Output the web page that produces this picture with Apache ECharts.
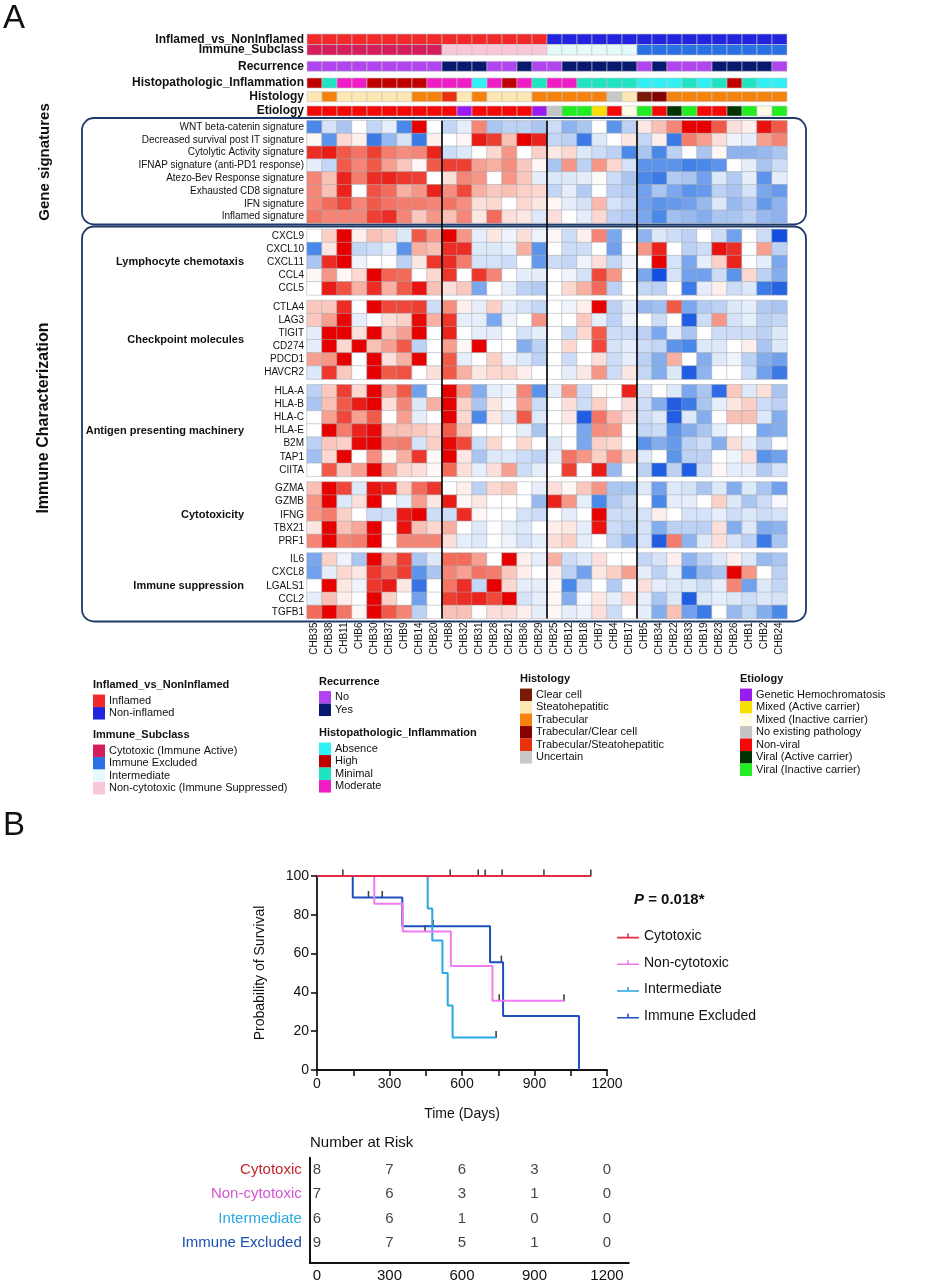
<!DOCTYPE html>
<html>
<head>
<meta charset="utf-8">
<script src="https://cdn.jsdelivr.net/npm/echarts@6.0.0/dist/echarts.min.js"></script>
<style>
  html, body { margin: 0; padding: 0; background: #fff; }
  #chart { width: 940px; height: 1280px; }
</style>
</head>
<body>
<div id="chart"></div>
<script>
// ---------- Panel A: samples and annotations ----------
const samples = ['CHB35', 'CHB38', 'CHB11', 'CHB6', 'CHB30', 'CHB37', 'CHB9', 'CHB14', 'CHB20',
  'CHB8', 'CHB32', 'CHB31', 'CHB28', 'CHB21', 'CHB36', 'CHB29',
  'CHB25', 'CHB12', 'CHB18', 'CHB7', 'CHB4', 'CHB17',
  'CHB5', 'CHB34', 'CHB22', 'CHB33', 'CHB19', 'CHB23', 'CHB26', 'CHB1', 'CHB2', 'CHB24'];
const groupBreaks = [9, 16, 22]; // black separators after these columns

const inflamedCats = ['Inflamed', 'Non-inflamed'];
const inflamedColors = ['#f2282a', '#2424de'];
const inflamedStatus = [0, 0, 0, 0, 0, 0, 0, 0, 0, 0, 0, 0, 0, 0, 0, 0,
  1, 1, 1, 1, 1, 1, 1, 1, 1, 1, 1, 1, 1, 1, 1, 1];

const subclassCats = ['Cytotoxic (Immune Active)', 'Immune Excluded', 'Intermediate', 'Non-cytotoxic (Immune Suppressed)'];
const subclassColors = ['#d41f5a', '#2a6fe4', '#e6fafb', '#f9c6da'];
const immuneSubclass = [0, 0, 0, 0, 0, 0, 0, 0, 0, 3, 3, 3, 3, 3, 3, 3,
  2, 2, 2, 2, 2, 2, 1, 1, 1, 1, 1, 1, 1, 1, 1, 1];

const recurrenceCats = ['No', 'Yes'];
const recurrenceColors = ['#b044ee', '#08196f'];
const recurrence = [0, 0, 0, 0, 0, 0, 0, 0, 0, 1, 1, 1, 0, 0, 1, 0,
  0, 1, 1, 1, 1, 1, 0, 1, 0, 0, 0, 1, 1, 1, 1, 0];

const histopathCats = ['Absence', 'High', 'Minimal', 'Moderate'];
const histopathColors = ['#2ff0f4', '#c00000', '#1ee4c2', '#f01cc4'];
const histopathInflammation = [1, 2, 3, 3, 1, 1, 1, 1, 3, 3, 3, 0, 3, 1, 3, 2,
  3, 3, 2, 2, 2, 2, 0, 0, 0, 2, 0, 2, 1, 2, 0, 0];

const histologyCats = ['Clear cell', 'Steatohepatitic', 'Trabecular', 'Trabecular/Clear cell', 'Trabecular/Steatohepatitic', 'Uncertain'];
const histologyColors = ['#7a1a06', '#fde7b2', '#f5820e', '#850000', '#e8320e', '#c8c8c8'];
const histology = [1, 2, 1, 1, 1, 1, 1, 2, 2, 4, 1, 2, 1, 1, 1, 2,
  2, 2, 2, 2, 5, 1, 0, 3, 2, 2, 2, 2, 2, 2, 2, 2];

const etiologyCats = ['Genetic Hemochromatosis', 'Mixed (Active carrier)', 'Mixed (Inactive carrier)', 'No existing pathology',
  'Non-viral', 'Viral (Active carrier)', 'Viral (Inactive carrier)'];
const etiologyColors = ['#9a1cf0', '#f8de00', '#fffbe4', '#c4c4c4', '#f40808', '#023302', '#22ec22'];
const etiology = [4, 4, 4, 4, 4, 4, 4, 4, 4, 4, 0, 4, 4, 4, 4, 0,
  3, 6, 6, 1, 4, 2, 6, 4, 5, 6, 4, 4, 5, 6, 2, 6];

// ---------- Panel A: z-scored expression ----------
const signatureNames = ['WNT beta-catenin signature', 'Decreased survival post IT signature', 'Cytolytic Activity signature',
  'IFNAP signature (anti-PD1 response)', 'Atezo-Bev Response signature', 'Exhausted CD8 signature', 'IFN signature', 'Inflamed signature'];
const signatureValues = [
  [-2, -0.5, -1, 0, -0.7, -0.3, -2, 3, 0, -0.7, -0.3, 1.5, -1, -0.8, -0.8, -1, -0.6, -1.3, -1, 0, -1.8, -0.8, 0.3, 0.8, 1.5, 3, 3, 2, 0.4, 0.2, 2.8, 2],
  [0.1, -1.8, 0.5, 0.2, -2.2, -1.2, -0.5, -2.2, 0.2, 0, 0.1, 2.7, 2.3, 0.8, 3, 2.6, -0.7, -0.8, -2.2, -0.4, 0, 0.3, -0.7, 0.2, -2.2, 1.6, 1.2, 0.4, -0.2, -0.3, 1.2, 1.5],
  [2.5, 2.7, 2, 1.7, 2.3, 1.6, 1.4, 1.5, 2.6, -0.6, -0.4, 0, 0.5, 1.3, 0, 0.6, 0.3, 0.5, -0.4, -0.6, -0.8, -2, -1, -2, -0.8, 0, -1, 0.1, -1.3, -1.3, -1.2, -1],
  [-0.3, -0.7, 2, 1.5, 2, 1.2, 0.7, 0.1, 2, 2.3, 2.3, 1.2, 1, 1.4, 0.7, 0.1, -1, 1.3, -0.8, 1.3, 0.5, -0.5, -1.8, -1.8, -1.8, -2.1, -2, -1.8, 0, -0.3, -1, -0.6],
  [1.5, 0.8, 2.6, 1.6, 2.5, 2.6, 2.4, 2.3, 0, 0.4, 1.5, 1.3, 0, 1.3, 0.7, -0.3, -0.4, -0.4, -0.3, 0.05, -0.6, -1, -2, -2.2, -0.9, -1, -1.6, -0.4, -0.9, -0.3, -1.8, -0.3],
  [1.5, 0.8, 2.6, 0, 2.1, 1.8, 1, 1.3, 2.6, 1.4, 2.2, 1, 0.7, 0.8, 0.6, 0.5, -0.7, -0.3, -0.9, 0, -0.8, -0.9, -1.6, -1, -1.5, -1.8, -1.7, -0.8, -1, -0.5, -1.5, -1.7],
  [1.5, 1.8, 2.2, 1.5, 2, 1.7, 1.6, 1.6, 1.5, 1.7, 1.4, 0.4, 0.5, 0, 0.5, 0.3, 0.1, -0.3, -0.5, 0.9, -0.5, -0.7, -1.6, -1.8, -1.7, -1.6, -1.2, -0.4, -1.2, -0.9, -1.7, -1.3],
  [1.7, 1.5, 1.5, 1.5, 2.3, 2.5, 1.5, 0.7, 1.3, 0.8, 1.5, 0.3, 1.8, 0.4, 0.3, -0.4, 0.4, 0, -0.3, 0.5, -0.8, -0.9, -1.5, -2, -1.1, -1.2, -1.4, -1, -1, -0.8, -1.2, -1.3]
];

const chemotaxisGenes = ['CXCL9', 'CXCL10', 'CXCL11', 'CCL4', 'CCL5'];
const chemotaxisValues = [
  [0, 0.6, 3, 0.2, 0.8, 0.6, -0.4, 2, 1.3, 3, 1.3, -0.3, 0.3, -0.2, 0.4, -0.2, 0.1, -0.6, 0.2, 1.5, -1.5, 0, -1.3, -0.4, -0.6, -0.8, 0, -0.6, -1.6, 0, -0.6, -2.8],
  [-2, 0.3, 3, -0.7, -0.6, -0.3, -1.8, 1, 0.8, 2.5, 2.5, -0.4, -0.4, -0.3, 1, -1.8, 0, -0.6, -0.6, 0, -1.6, 0, 1.3, 2.6, 0, -0.8, -0.6, 2.8, 2.5, 0, 1.2, -0.8],
  [-1, 2.5, 3, -0.2, 0, 0, -0.8, 0.3, 2.4, 2.5, 1.6, -0.5, -0.5, -0.6, 0, -1.7, -0.6, -0.7, -0.2, 0.4, -0.7, -0.2, 0, 3, -0.5, -1.5, -0.3, 0.6, 2.6, 0, -0.3, -1.5],
  [0.1, 1.3, 0.1, 0.5, 3, 1.9, 1.8, 0, 0.5, 2.4, 0, 2.4, 1.5, 0, -0.3, -0.3, 0, -0.2, -0.5, 2.2, 1.3, 0, -1.5, -2.8, -0.5, -1.6, -1.6, -0.6, -1.8, 0.5, -0.8, -1.4],
  [0, 2.7, 2.1, 1, 2.5, 1, 2, 2.8, 0.8, 0.4, 0.7, -1.5, 0, -0.3, -0.8, -0.9, 0, 0.5, 1, 1.8, -0.8, 0, -0.7, -0.8, 0, -2.2, -0.3, 0.2, -0.6, -0.4, -2.2, -2.5]
];

const checkpointGenes = ['CTLA4', 'LAG3', 'TIGIT', 'CD274', 'PDCD1', 'HAVCR2'];
const checkpointValues = [
  [0.7, 0.7, 2.5, 0, 3, 2.2, 2.2, 2.3, -0.6, 1.4, 0.2, -0.3, 0.6, -0.3, -0.5, -0.7, 0, -0.2, 0.2, 3, -0.8, -0.3, -1.2, -1.1, 2, -1.5, -0.9, -0.8, -0.4, -0.3, -0.9, -1],
  [0.7, 1.2, 2.9, -0.3, 0, 0.4, 0.6, 2.9, 1, 2.4, -0.3, -0.3, -1.5, -0.2, 0, 1.3, 0, 0, 0.7, -0.3, -0.8, -0.2, 0, -0.6, 0, -2.6, -0.6, 1.3, -0.5, -0.3, -0.8, -0.7],
  [-0.3, 3, 3, 0.4, 3, 0.8, 1.2, 3, 0, 2.6, 0, -0.3, -0.3, 0, -0.5, -0.3, 0, -0.6, 0.5, 2, -0.6, -0.6, -0.8, -1.5, -0.3, -1, 0, -0.6, -0.6, -0.6, -0.8, -0.4],
  [-0.3, 3, 0.5, 3, 0.8, 1.2, 2, -0.8, 0, 1.2, 0.1, 3, 0, 0, -1.4, -0.8, 0, 0.5, 0, 2.2, -0.5, -0.3, -0.6, -0.7, -1.8, -2, -0.4, -0.4, 0, 0.2, -1, -0.4],
  [1.2, 1.3, 3, 0, 3, 0.4, 1, 3, 0, 2, -0.3, 0, 0.6, -0.2, -0.4, -0.8, 0, -0.6, 0, 0.4, -0.6, -0.3, -0.8, -1.4, 1, 0, -1.4, -0.4, -0.2, -0.8, -1.4, -1.6],
  [-0.4, 2.4, 0.7, 0, 3, 2, 2.1, 0, 0.4, 2, 1, 0.3, 0.5, 0.5, 0.2, 0, 0, -0.3, 0.3, 1.3, -0.6, 0.3, -0.7, -1.4, -0.4, -2.6, -1.3, 0, 0, -0.6, -1.6, -2.2]
];

const antigenGenes = ['HLA-A', 'HLA-B', 'HLA-C', 'HLA-E', 'B2M', 'TAP1', 'CIITA'];
const antigenValues = [
  [-0.8, 0.7, 2.3, 0.5, 3, 1.2, 2, -1.6, 0, 3, 1.3, -1.4, -0.3, -0.2, 1.5, -1.8, -0.3, 1.3, -0.6, 0.1, 0, 2.6, -0.5, 0, -0.4, -1.5, -1, -2.4, 0.7, -0.4, 0.4, -1],
  [-1, 0.8, 2, 2.7, 3, 0.4, 1.5, -0.4, 1, 3, 0.6, -1, 0.3, -0.1, 1.2, -0.6, 0, 0.4, -0.6, 0.6, 0, 0.4, -0.6, -1.4, -2.6, -2.2, -1, -0.3, 0.3, 0.6, -0.6, -0.8],
  [0, 1.2, 2.2, 1.2, 2, 0, 1.2, -0.3, 0, 3, 0.5, -2, 0.3, -0.4, 2, -0.4, 0, 0.3, -2.6, 1.7, 0.9, 0.4, -0.6, -0.4, -2.6, -0.4, -1.4, 0, 0.8, 0.8, -0.4, -1.4],
  [0, 3, 1.6, 2.6, 2.9, 0.8, 0.8, 0.7, 0.5, 2, 0.8, 0, 0, 0, -0.3, -1, 0, 0, -1.5, 1.4, 1.3, 0, -0.7, -0.6, -1.8, -1.4, -1, -0.3, 0, 0, -1.5, -1.4],
  [-0.8, 0.7, 0.6, 2.9, 3, 1.5, 1.6, -0.5, 0.6, 2.9, 2.2, -0.6, 0.5, 0, 0.5, 0, -0.4, 0, -1.5, 0.6, 0.5, 0, -1.8, -1.4, -1.7, -0.8, -0.6, -1.4, 0.4, -0.3, -0.8, 0],
  [-1.1, 0.5, 3, 0, 1.4, 0.1, 1, 2.4, 0.1, 3, 0.3, -1, -0.4, -0.4, -0.6, -0.8, -0.3, 1.7, 1.3, 0.6, 1.4, 0.6, -0.4, 0, -1.8, -0.8, -0.8, 0, -0.2, 0.4, -1.8, -1.6],
  [0, 2, 0.7, 1.2, 3, 1.2, 0.5, 0.4, 0.1, 1.8, 0.4, -0.3, 0.4, 1.2, -0.6, -0.3, 0, 2.3, 0, 2.7, -1.2, 0, -0.8, -2.6, -0.8, -2.6, -0.6, 0.1, -0.3, -0.3, -0.9, -0.5]
];

const cytotoxicityGenes = ['GZMA', 'GZMB', 'IFNG', 'TBX21', 'PRF1'];
const cytotoxicityValues = [
  [0.8, 3, 2.2, -0.4, 2.8, 2.6, 0.6, 1.8, 2.4, 0, 0.2, -0.8, 0.5, 0.7, 0, -0.3, 0.4, 0.1, 0.7, 1.3, -1, -1, -0.4, -1.6, -0.4, -0.5, -1, -0.4, -1.4, -0.4, -1, -1.6],
  [1.3, 3, -0.4, 0.4, 3, 0, -0.3, 1.2, 0.3, 2.7, 0.1, 0.3, 0, 0, 0, -1.2, 2.6, 1.3, -0.3, -2, -0.9, -0.6, 0, -2, -0.3, -0.3, 0, 0.6, -0.4, -1, -0.6, -0.1],
  [1.3, 1.6, 0.6, 0, -0.6, -0.6, 2.7, 3, -0.6, -0.6, 2.5, 0.1, 0, 0, -0.5, -0.6, 0, -0.3, 0, 3, -0.6, -0.6, -0.5, 0.2, 0, -0.5, -0.5, -0.3, -0.6, -0.4, -0.6, -0.5],
  [0.3, 3, 0.8, 1.1, 3, 0, 2.8, 0.8, 0.5, 1, 0, -0.4, 0, -0.3, -0.4, 0, 0.2, 0.3, -0.3, 2.8, -0.6, -0.8, -0.5, -1.4, -0.8, -0.8, -0.8, 0.4, -1.4, -0.4, -1.4, -1.3],
  [1.5, 3, 1.5, 1.6, 3, 0, 1.5, 1.5, 1.5, 0.4, -0.3, -0.4, 0, -0.2, -0.5, -0.3, 0.4, 0.6, -0.3, 0, -0.7, -1.2, -0.5, -2.6, 1.6, -1.3, -0.4, 0.4, -0.5, -0.8, -2.2, -1]
];

const suppressionGenes = ['IL6', 'CXCL8', 'LGALS1', 'CCL2', 'TGFB1'];
const suppressionValues = [
  [-1.5, 0.6, -0.2, -1, 3, 1.2, 2.3, -1, -0.4, 1.8, 1.8, 1.2, 0, 3, 0.2, -0.3, 1, -0.6, -0.4, 0.4, 0, 0, -0.7, -0.5, 0.2, -1.3, -0.8, -0.4, 0.2, -0.4, -1.2, -1],
  [-1.6, -0.3, 0.5, 0.3, 2.4, 1.8, 2.3, -1.8, -1, 1.5, 1.2, 1.7, 1.6, 0.7, 0.2, 0, 0.2, -0.8, -1.6, 0.3, 0.6, 1.2, -0.3, -0.8, -0.3, -2, -1.2, -1, 3, 1.3, 0, -0.8],
  [0, 3, 0.3, -0.2, 2.4, 2.7, 0.3, -2.3, 0, 1.7, 2.5, -0.7, 3, 0.5, -0.3, -0.3, 0.1, -2, -0.6, 0, -0.9, -0.1, 0.4, -0.3, -0.4, -0.4, -0.6, -0.3, 1.5, -1.6, -0.4, -0.7],
  [-0.3, 0.8, 0.2, 0, 3, 0.6, 0, -1.6, 0, 2.3, 2.5, 2.6, 2.2, 3, -0.5, -0.3, 0.1, -1.4, -0.1, 0.3, -0.3, 0.5, -0.3, -1, -0.4, -2.6, -0.4, -0.3, -0.4, -0.6, -0.4, -0.5],
  [1.8, 3, 1.7, 0.1, 3, 2, 1.5, -0.8, 0, 0.8, 0.8, 0, 0.4, 0.4, 0.2, -0.3, 0.1, -0.3, -0.2, 0.4, -0.6, 0, -0.3, -1.4, 0.8, -1.6, -2.2, 0, -1.2, -0.7, -1.4, -2]
];

const heatColors = ['#0440dc', '#4a88ea', '#abc5f1', '#ffffff', '#f8b0a2', '#f15a49', '#e60000'];

// ---------- Panel B: Kaplan-Meier ----------
const kmGroups = ['Cytotoxic', 'Non-cytotoxic', 'Intermediate', 'Immune Excluded'];
const kmColors = ['#e22b45', '#f07cf0', '#2aa7e0', '#1d4fc0'];
const kmTimes = [
  [0, 1133],
  [0, 237, 355, 554, 726, 1022],
  [0, 458, 477, 519, 541, 561, 741],
  [0, 148, 353, 716, 770, 1084]
];
const kmSurvival = [
  [100, 100],
  [100, 85.7, 71.4, 53.6, 35.7, 35.7],
  [100, 83.3, 66.7, 50, 33.3, 16.7, 16.7],
  [100, 88.9, 74.1, 55.6, 27.8, 0]
];
const kmCensored = [
  [107, 551, 667, 696, 766, 939, 1133],
  [447, 754, 1022],
  [741],
  [213, 270, 480, 763]
];
const riskTimes = [0, 300, 600, 900, 1200];
const riskCounts = [
  [8, 7, 6, 3, 0],
  [7, 6, 3, 1, 0],
  [6, 6, 1, 0, 0],
  [9, 7, 5, 1, 0]
];
const riskColors = ['#c1272d', '#d255d2', '#27a9e1', '#1c4ead'];

// ---------- layout ----------
const FONT = 'Liberation Sans, Arial, Helvetica, sans-serif';
const HM_LEFT = 307, HM_WIDTH = 480;

const annotations = [
  { label: 'Inflamed_vs_NonInflamed', values: inflamedStatus, colors: inflamedColors, top: 34, height: 10.5 },
  { label: 'Immune_Subclass', values: immuneSubclass, colors: subclassColors, top: 44.5, height: 10.5 },
  { label: 'Recurrence', values: recurrence, colors: recurrenceColors, top: 61.3, height: 10 },
  { label: 'Histopathologic_Inflammation', values: histopathInflammation, colors: histopathColors, top: 78, height: 10 },
  { label: 'Histology', values: histology, colors: histologyColors, top: 91.7, height: 10 },
  { label: 'Etiology', values: etiology, colors: etiologyColors, top: 106, height: 10 }
];

const blocks = [
  { genes: signatureNames, values: signatureValues, top: 120.7, rowH: 12.79 },
  { genes: chemotaxisGenes, values: chemotaxisValues, top: 229.4, rowH: 13.1, title: 'Lymphocyte chemotaxis' },
  { genes: checkpointGenes, values: checkpointValues, top: 300.5, rowH: 13.1, title: 'Checkpoint molecules' },
  { genes: antigenGenes, values: antigenValues, top: 384.7, rowH: 13.1, title: 'Antigen presenting machinery' },
  { genes: cytotoxicityGenes, values: cytotoxicityValues, top: 482, rowH: 13.1, title: 'Cytotoxicity' },
  { genes: suppressionGenes, values: suppressionValues, top: 553, rowH: 13.1, title: 'Immune suppression' }
];

const grid = [], xAxis = [], yAxis = [], series = [], heatSeries = [], graphic = [];
const off = { show: false };
const plain = v => String(v);

function addGrid(box) {
  grid.push(Object.assign({ outerBoundsMode: 'none', containLabel: false }, box));
  return grid.length - 1;
}

function text(x, y, str, opts) {
  return {
    type: 'text', x: x, y: y, rotation: opts.rotation || 0, silent: true,
    style: Object.assign({
      text: str, fontFamily: FONT, fontSize: 11, fill: '#111',
      align: 'left', verticalAlign: 'middle', textAlign: 'left', textVerticalAlign: 'middle'
    }, opts.style)
  };
}

// annotation tracks
annotations.forEach(a => {
  const g = addGrid({ left: HM_LEFT, width: HM_WIDTH, top: a.top, height: a.height });
  xAxis.push({ gridIndex: g, type: 'category', data: samples, show: false });
  yAxis.push({
    gridIndex: g, type: 'category', data: [a.label], axisLine: off, axisTick: off,
    axisLabel: { fontFamily: FONT, fontWeight: 'bold', fontSize: 12, color: '#111', margin: 3 }
  });
  series.push({
    type: 'custom', xAxisIndex: g, yAxisIndex: g, silent: true,
    data: a.values.map((c, i) => [i, 0, c]),
    renderItem: (params, api) => {
      const p = api.coord([api.value(0), api.value(1)]);
      const s = api.size([1, 1]);
      return {
        type: 'rect',
        shape: { x: p[0] - s[0] / 2, y: p[1] - s[1] / 2, width: s[0], height: s[1] },
        style: { fill: a.colors[api.value(2)], stroke: '#c4c4c4', lineWidth: 0.6 }
      };
    }
  });
});

// expression blocks
blocks.forEach((b, bi) => {
  const h = b.genes.length * b.rowH;
  const g = addGrid({ left: HM_LEFT, width: HM_WIDTH, top: b.top, height: h });
  const last = bi === blocks.length - 1;
  xAxis.push({
    gridIndex: g, type: 'category', data: samples, axisLine: off, axisTick: off, splitLine: off,
    axisLabel: last
      ? { show: true, rotate: 90, interval: 0, fontFamily: FONT, fontSize: 10, color: '#111', margin: 4 }
      : { show: false }
  });
  yAxis.push({
    gridIndex: g, type: 'category', data: b.genes, inverse: true, axisLine: off, axisTick: off, splitLine: off,
    axisLabel: { fontFamily: FONT, fontSize: 10, color: '#111', margin: 3, interval: 0 }
  });
  heatSeries.push(series.length);
  series.push({
    type: 'heatmap', xAxisIndex: g, yAxisIndex: g, silent: true,
    data: b.values.flatMap((row, ri) => row.map((v, ci) => [ci, ri, v])),
    itemStyle: { borderColor: '#a4a8af', borderWidth: 0.5 },
    emphasis: { disabled: true }
  });
  if (b.title) {
    graphic.push(text(244, b.top + h / 2, b.title, {
      style: { fontWeight: 'bold', fontSize: 11, align: 'right', textAlign: 'right' }
    }));
  }
});

// group separators over the whole heatmap
{
  const top = blocks[0].top;
  const lastB = blocks[blocks.length - 1];
  const bottom = lastB.top + lastB.genes.length * lastB.rowH;
  const g = addGrid({ left: HM_LEFT, width: HM_WIDTH, top: top, height: bottom - top });
  xAxis.push({ gridIndex: g, type: 'value', min: 0, max: samples.length, show: false });
  yAxis.push({ gridIndex: g, type: 'value', min: 0, max: 1, show: false });
  series.push({
    type: 'line', xAxisIndex: g, yAxisIndex: g, data: [[0, 0]], symbol: 'none', silent: true,
    lineStyle: { width: 0 },
    markLine: {
      silent: true, symbol: ['none', 'none'], label: { show: false },
      lineStyle: { color: '#000', width: 1.6, type: 'solid' },
      data: groupBreaks.map(b => ({ xAxis: b }))
    }
  });
}

// ---------- Panel B: survival plot ----------
const axisBlack = { show: true, onZero: false, lineStyle: { color: '#111', width: 1.8 } };
{
  const g = addGrid({ left: 317, top: 876, width: 290, height: 194 });
  xAxis.push({
    gridIndex: g, type: 'value', min: 0, max: 1200, interval: 300,
    axisLine: axisBlack,
    axisTick: { show: true, length: 6, lineStyle: { color: '#111', width: 1.6 } },
    minorTick: { show: true, splitNumber: 2, length: 6, lineStyle: { color: '#111', width: 1.6 } },
    splitLine: off, minorSplitLine: off,
    axisLabel: { fontFamily: FONT, fontSize: 14, color: '#111', margin: 7, formatter: plain },
    name: 'Time (Days)', nameLocation: 'middle', nameGap: 37,
    nameTextStyle: { fontFamily: FONT, fontSize: 14, color: '#111' }
  });
  yAxis.push({
    gridIndex: g, type: 'value', min: 0, max: 100, interval: 20,
    axisLine: axisBlack,
    axisTick: { show: true, length: 6, lineStyle: { color: '#111', width: 1.6 } },
    splitLine: off,
    axisLabel: { fontFamily: FONT, fontSize: 14, color: '#111', margin: 8, formatter: plain },
    name: 'Probability of Survival', nameLocation: 'middle', nameGap: 50,
    nameTextStyle: { fontFamily: FONT, fontSize: 14, color: '#111' }
  });

  const survivalAt = (gi, t) => {
    let s = kmSurvival[gi][0];
    kmTimes[gi].forEach((tt, i) => { if (tt <= t) s = kmSurvival[gi][i]; });
    return s;
  };

  [3, 2, 1, 0].forEach(gi => {
    series.push({
      name: kmGroups[gi], type: 'line', step: 'end', xAxisIndex: g, yAxisIndex: g,
      symbol: 'none', silent: true, color: kmColors[gi],
      lineStyle: { color: kmColors[gi], width: 2 },
      data: kmTimes[gi].map((t, i) => [t, kmSurvival[gi][i]])
    });
    series.push({
      name: kmGroups[gi] + ' censored', type: 'scatter', xAxisIndex: g, yAxisIndex: g, silent: true,
      symbol: 'rect', symbolSize: [1.6, 7], symbolOffset: [0, -3],
      itemStyle: { color: '#111' },
      data: kmCensored[gi].map(t => [t, survivalAt(gi, t)])
    });
  });
}

// ---------- Panel B: number at risk ----------
{
  const g = addGrid({ left: 309.75, top: 1157.8, width: 319, height: 104.6 });
  xAxis.push({
    gridIndex: g, type: 'value', min: -30, max: 1290,
    axisLine: { show: true, onZero: false, lineStyle: { color: '#111', width: 2 } },
    axisTick: off, splitLine: off,
    axisLabel: { customValues: riskTimes, fontFamily: FONT, fontSize: 15, color: '#111', margin: 6, formatter: plain }
  });
  const rich = {};
  riskColors.forEach((c, i) => { rich['g' + i] = { color: c, fontFamily: FONT, fontSize: 15 }; });
  yAxis.push({
    gridIndex: g, type: 'value', inverse: true, min: -0.5, max: 3.8,
    axisLine: { show: true, onZero: false, lineStyle: { color: '#111', width: 2 } },
    axisTick: off, splitLine: off,
    axisLabel: {
      customValues: [0, 1, 2, 3], margin: 8, fontFamily: FONT, fontSize: 15,
      formatter: v => `{g${v}|${kmGroups[v]}}`, rich: rich
    }
  });
  series.push({
    type: 'scatter', xAxisIndex: g, yAxisIndex: g, silent: true, symbolSize: 0,
    data: riskCounts.flatMap((row, gi) => row.map((n, ti) => [riskTimes[ti], gi, n])),
    label: {
      show: true, position: 'inside', formatter: p => String(p.value[2]),
      fontFamily: FONT, fontSize: 15, color: '#111'
    }
  });
}

// ---------- decorations ----------
graphic.push({
  type: 'rect', silent: true, shape: { x: 82, y: 118, width: 724, height: 106.5, r: 12 },
  style: { fill: 'none', stroke: '#1e3a68', lineWidth: 1.8 }
});
graphic.push({
  type: 'rect', silent: true, shape: { x: 82, y: 226.5, width: 724, height: 395, r: 12 },
  style: { fill: 'none', stroke: '#1e3a68', lineWidth: 1.8 }
});
graphic.push(text(45, 162, 'Gene signatures', {
  rotation: Math.PI / 2, style: { fontWeight: 'bold', fontSize: 15, align: 'center', textAlign: 'center' }
}));
graphic.push(text(44, 418, 'Immune Characterization', {
  rotation: Math.PI / 2, style: { fontWeight: 'bold', fontSize: 16, align: 'center', textAlign: 'center' }
}));
graphic.push(text(3, 19, 'A', { style: { fontSize: 33 } }));
graphic.push(text(3, 826, 'B', { style: { fontSize: 33 } }));

// heatmap legends
const legendPanels = [
  { title: 'Inflamed_vs_NonInflamed', cats: inflamedCats, colors: inflamedColors, x: 93, y: 685 },
  { title: 'Immune_Subclass', cats: subclassCats, colors: subclassColors, x: 93, y: 735 },
  { title: 'Recurrence', cats: recurrenceCats, colors: recurrenceColors, x: 319, y: 681.5 },
  { title: 'Histopathologic_Inflammation', cats: histopathCats, colors: histopathColors, x: 319, y: 733 },
  { title: 'Histology', cats: histologyCats, colors: histologyColors, x: 520, y: 679 },
  { title: 'Etiology', cats: etiologyCats, colors: etiologyColors, x: 740, y: 679 }
];
legendPanels.forEach(p => {
  graphic.push(text(p.x, p.y, p.title, { style: { fontWeight: 'bold', fontSize: 11 } }));
  p.cats.forEach((c, i) => {
    const cy = p.y + 15.8 + i * 12.5;
    graphic.push({
      type: 'rect', silent: true, shape: { x: p.x, y: cy - 6.25, width: 12, height: 12.5 },
      style: { fill: p.colors[i] }
    });
    graphic.push(text(p.x + 16, cy, c, { style: { fontSize: 11 } }));
  });
});

// survival annotations
graphic.push(text(634, 900, '{p|P} = 0.018*', {
  style: {
    fontWeight: 'bold', fontSize: 15,
    rich: { p: { fontStyle: 'italic', fontWeight: 'bold', fontSize: 15, fontFamily: FONT } }
  }
}));
graphic.push(text(310, 1143, 'Number at Risk', { style: { fontSize: 15 } }));

const option = {
  backgroundColor: '#ffffff',
  animation: false,
  grid: grid,
  xAxis: xAxis,
  yAxis: yAxis,
  visualMap: {
    type: 'continuous', show: false, min: -3, max: 3, dimension: 2,
    seriesIndex: heatSeries, inRange: { color: heatColors }
  },
  legend: {
    orient: 'vertical', left: 612, top: 923, itemWidth: 22, itemHeight: 8, itemGap: 10.7,
    icon: 'path://M0,3.2H22V4.8H0Z M10.2,0H11.8V4.8H10.2Z',
    data: kmGroups,
    textStyle: { fontFamily: FONT, fontSize: 14, color: '#111', lineHeight: 16 },
    selectedMode: false
  },
  series: series,
  graphic: graphic
};

const chart = echarts.init(document.getElementById('chart'));
chart.setOption(option);
window.addEventListener('resize', () => chart.resize());
</script>
</body>
</html>
